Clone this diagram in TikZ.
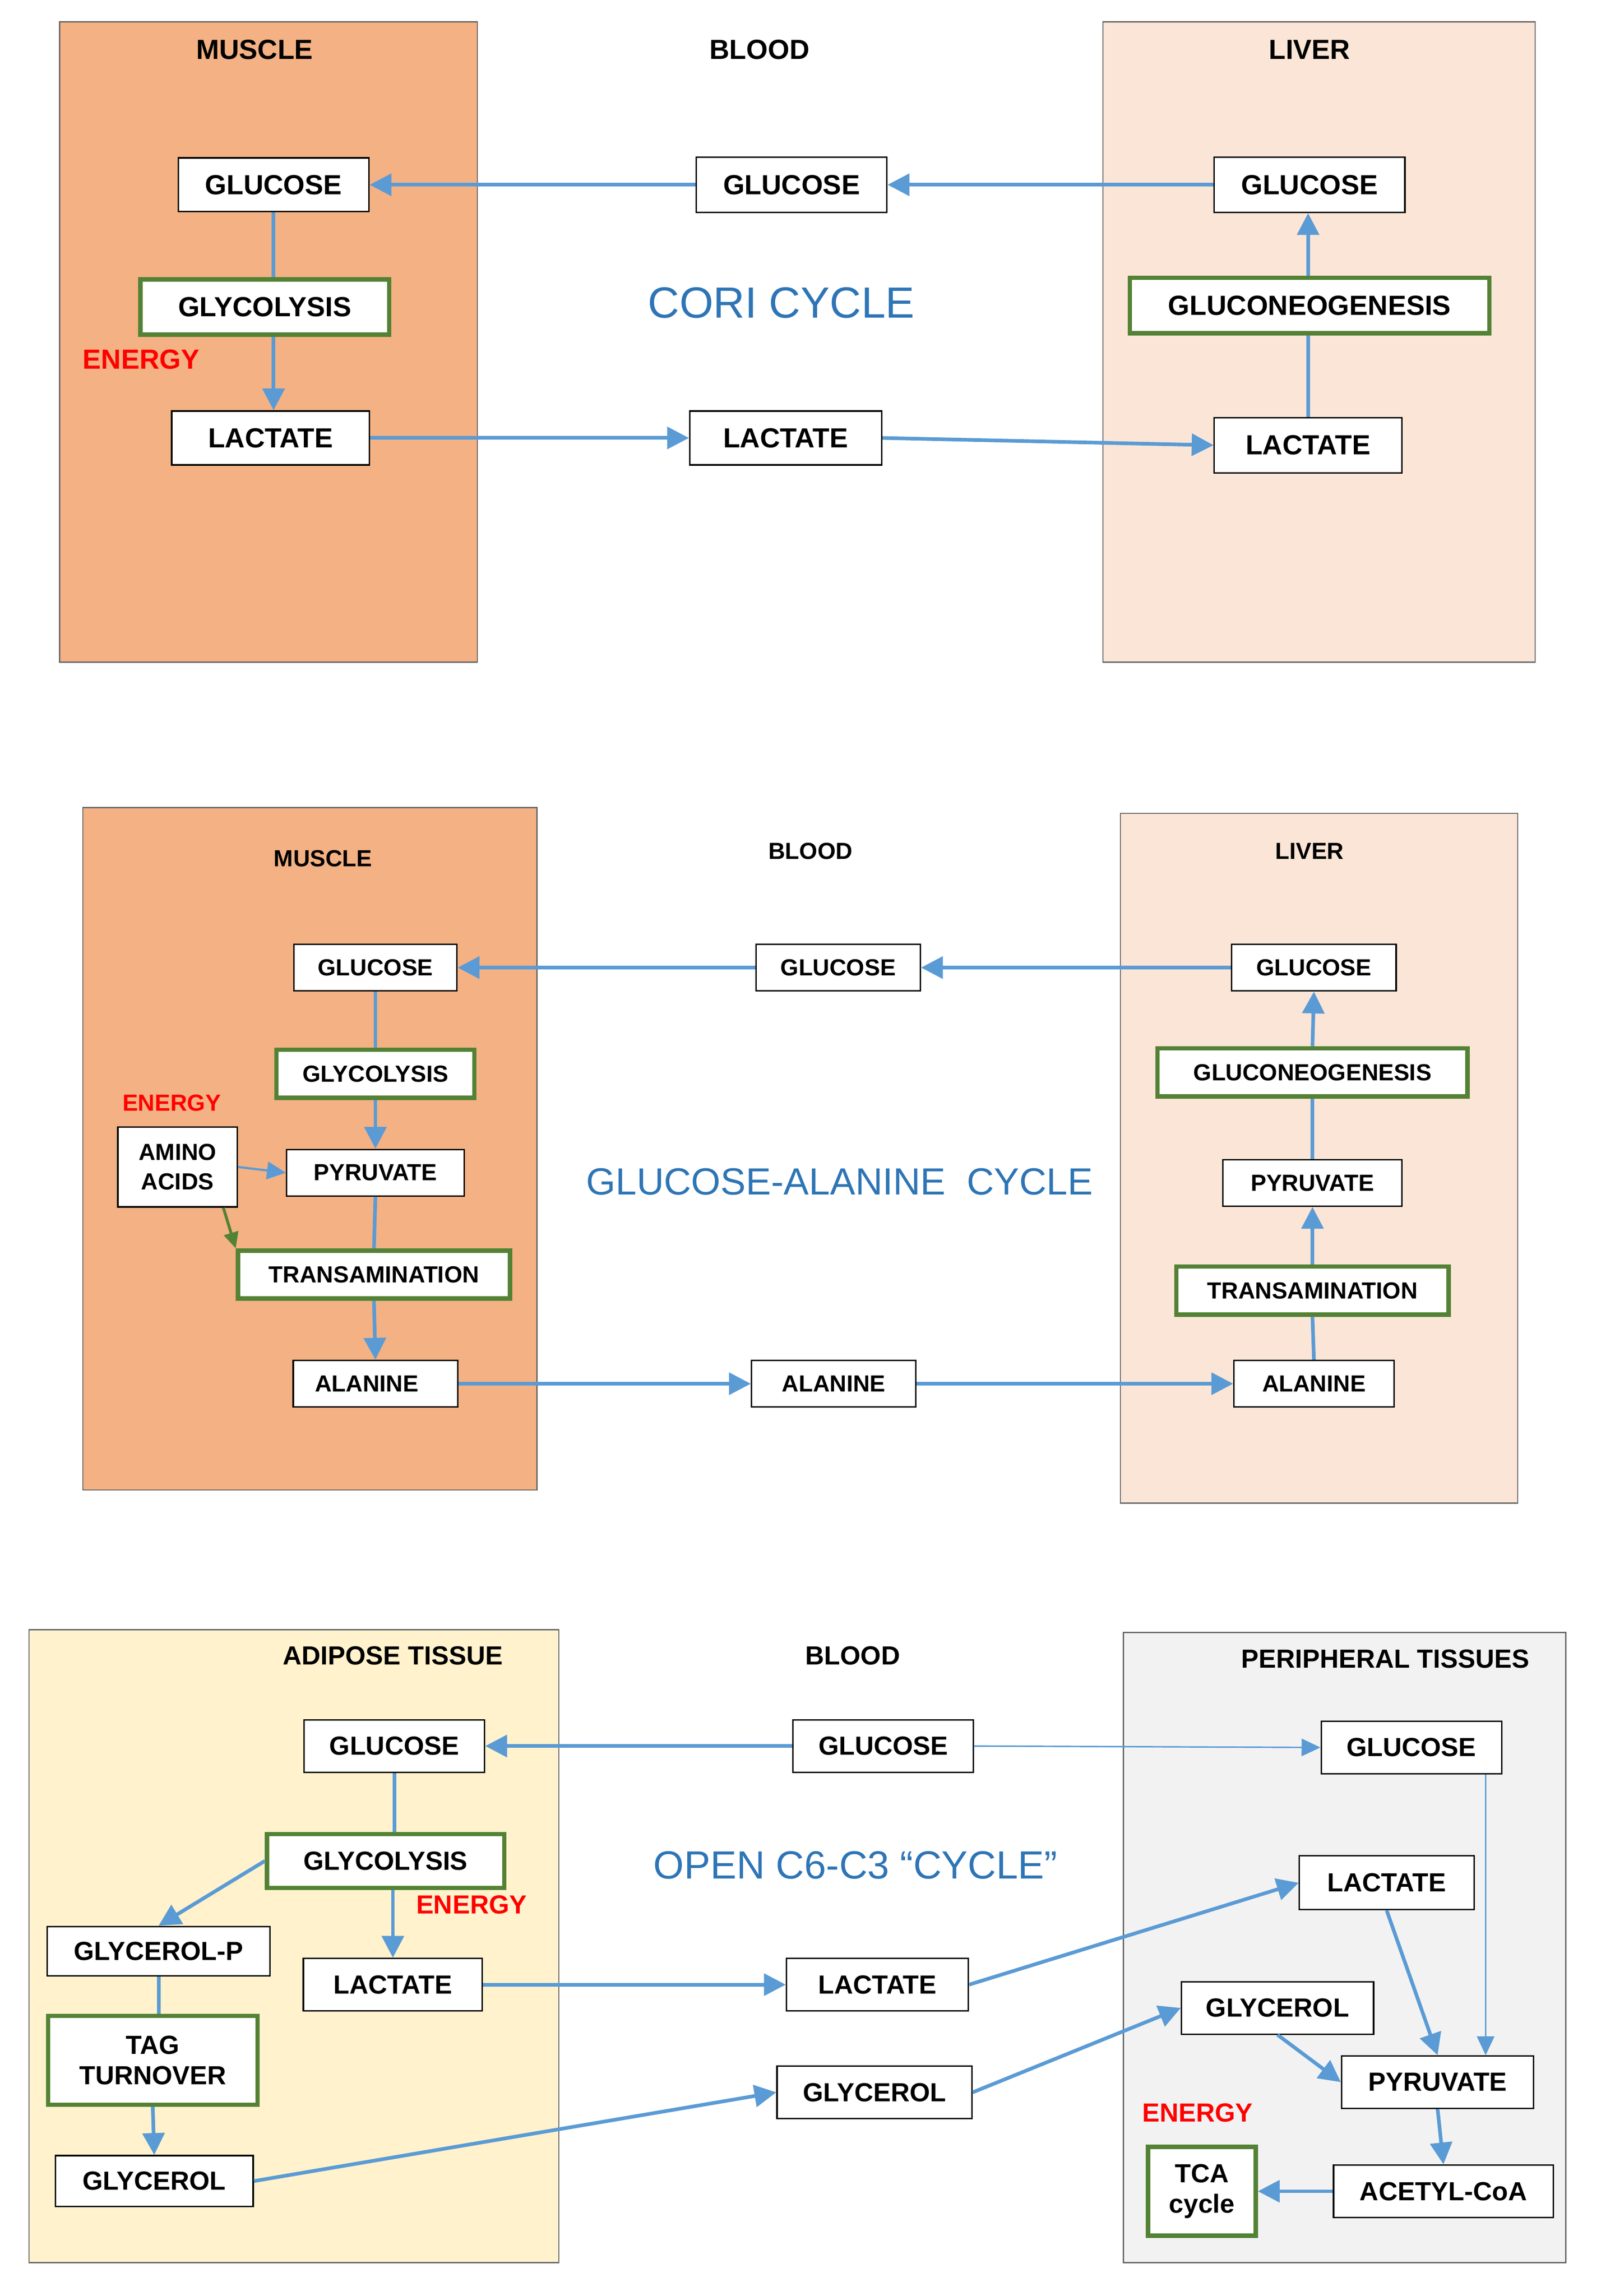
\documentclass[tikz,border=0pt]{standalone}
\usepackage{fontspec}
\setmainfont{Liberation Sans}
\usetikzlibrary{arrows.meta}
\definecolor{arr}{HTML}{5B9BD5}
\definecolor{grn}{HTML}{548235}
\definecolor{musc}{HTML}{F4B183}
\definecolor{liv}{HTML}{FBE5D6}
\definecolor{adip}{HTML}{FFF2CC}
\definecolor{peri}{HTML}{F2F2F2}
\definecolor{cyc}{HTML}{2E75B6}
\begin{document}
\begin{tikzpicture}[x=1pt,y=-1pt,
 box/.style={draw=black,line width=1pt,fill=white,font=\bfseries,inner sep=0pt,align=center},
 gbox/.style={box,draw=grn,line width=3pt},
 tis/.style={draw=gray!80!black,line width=0.8pt},
 a/.style={draw=arr,line width=2.5pt,-{Triangle[length=15pt,width=15pt]}},
 l/.style={draw=arr,line width=2.5pt},
 ta/.style={draw=arr,line width=1pt,-{Triangle[length=13pt,width=12pt]}},
 ttl/.style={font=\bfseries},
 en/.style={font=\bfseries,text=red},
 cy/.style={text=cyc,font=\fontsize{30}{34}\selectfont}]
\useasboundingbox (0,0) rectangle (1100,1578);
% ---------- Panel 1
\begin{scope}
\fontsize{19}{22}\selectfont
\fill[musc] (41,15) rectangle (328,455); \draw[tis] (41,15) rectangle (328,455);
\fill[liv] (758,15) rectangle (1055,455); \draw[tis] (758,15) rectangle (1055,455);
\node[ttl] (t1) at (175,34) {MUSCLE};
\node[ttl] (t2) at (522,34) {BLOOD};
\node[ttl] (t3) at (900,34) {LIVER};
\node[box,minimum width=131pt,minimum height=37pt] (mg) at (188,127) {GLUCOSE};
\node[box,minimum width=131pt,minimum height=38pt] (bg) at (544,127) {GLUCOSE};
\node[box,minimum width=131pt,minimum height=38pt] (lg) at (900,127) {GLUCOSE};
\node[gbox,minimum width=171pt,minimum height=38pt] (gly) at (182,211) {GLYCOLYSIS};
\node[en] (e1) at (97,247) {ENERGY};
\node[box,minimum width=136pt,minimum height=37pt] (ml) at (186,301) {LACTATE};
\node[box,minimum width=132pt,minimum height=37pt] (bl) at (540,301) {LACTATE};
\node[box,minimum width=129pt,minimum height=38pt] (ll) at (899,306) {LACTATE};
\node[gbox,minimum width=247pt,minimum height=38pt] (gng) at (900,210) {GLUCONEOGENESIS};
\end{scope}
\node[cy] (c1) at (537,208) {CORI CYCLE};
\draw[a] (bg.west) -- (mg.east);
\draw[a] (lg.west) -- (bg.east);
\draw[l] (mg.south) -- (mg.south |- gly.north);
\draw[a] (gly.south -| mg.south) -- (ml.north -| mg.south);
\draw[a] (ml.east) -- (bl.west);
\draw[a] (bl.east) -- (ll.west);
\draw[l] (ll.north) -- (gng.south -| ll.north);
\draw[a] (gng.north -| ll.north) -- (lg.south -| ll.north);
% ---------- Panel 2
\begin{scope}
\fontsize{16}{19}\selectfont
\fill[musc] (57,555) rectangle (369,1024); \draw[tis] (57,555) rectangle (369,1024);
\fill[liv] (770,559) rectangle (1043,1033); \draw[tis] (770,559) rectangle (1043,1033);
\node[ttl] (u1) at (222,590) {MUSCLE};
\node[ttl] (u2) at (557,585) {BLOOD};
\node[ttl] (u3) at (900,585) {LIVER};
\node[box,minimum width=112pt,minimum height=32pt] (mg2) at (258,665) {GLUCOSE};
\node[box,minimum width=113pt,minimum height=32pt] (bg2) at (576,665) {GLUCOSE};
\node[box,minimum width=113pt,minimum height=32pt] (lg2) at (903,665) {GLUCOSE};
\node[gbox,minimum width=136pt,minimum height=33pt] (gly2) at (258,738) {GLYCOLYSIS};
\node[en] (e2) at (118,758) {ENERGY};
\node[box,minimum width=82pt,minimum height=55pt,font=\fontsize{16}{20}\selectfont\bfseries] (aa) at (122,802) {AMINO\\ACIDS};
\node[box,minimum width=122pt,minimum height=32pt] (mp) at (258,806) {PYRUVATE};
\node[gbox,minimum width=187pt,minimum height=33pt] (mt) at (257,876) {TRANSAMINATION};
\node[box,minimum width=113pt,minimum height=32pt] (ma) at (258,951) {ALANINE\hspace{12pt}};
\node[box,minimum width=113pt,minimum height=32pt] (ba) at (573,951) {ALANINE};
\node[box,minimum width=110pt,minimum height=32pt] (la) at (903,951) {ALANINE};
\node[gbox,minimum width=213pt,minimum height=33pt] (gng2) at (902,737) {GLUCONEOGENESIS};
\node[box,minimum width=123pt,minimum height=32pt] (lp) at (902,813) {PYRUVATE};
\node[gbox,minimum width=187pt,minimum height=33pt] (lt) at (902,887) {TRANSAMINATION};
\end{scope}
\node[cy,font=\fontsize{26}{30}\selectfont] (c2) at (577,812) {GLUCOSE-ALANINE\ \ CYCLE};
\draw[a] (bg2.west) -- (mg2.east);
\draw[a] (lg2.west) -- (bg2.east);
\draw[l] (mg2.south) -- (gly2.north);
\draw[a] (gly2.south) -- (mp.north);
\draw[l] (mp.south) -- (mt.north);
\draw[a] (mt.south) -- (ma.north);
\draw[ta,line width=1.5pt] (aa.east) -- (mp.west);
\draw[draw=grn,line width=2pt,-{Triangle[length=11pt,width=10pt]}] (aa.south east) ++(-10,0) -- (mt.north west);
\draw[a] (ma.east) -- (ba.west);
\draw[a] (ba.east) -- (la.west);
\draw[l] (la.north) -- (lt.south);
\draw[a] (lt.north) -- (lp.south);
\draw[l] (lp.north) -- (gng2.south);
\draw[a] (gng2.north) -- (lg2.south);
% ---------- Panel 3
\begin{scope}
\fontsize{18}{21}\selectfont
\fill[adip] (20,1120) rectangle (384,1555); \draw[tis] (20,1120) rectangle (384,1555);
\fill[peri] (772,1122) rectangle (1076,1555); \draw[tis] (772,1122) rectangle (1076,1555);
\node[ttl] (v1) at (270,1138) {ADIPOSE TISSUE};
\node[ttl] (v2) at (586,1138) {BLOOD};
\node[ttl] (v3) at (952,1140) {PERIPHERAL TISSUES};
\node[box,minimum width=124pt,minimum height=36pt] (ag) at (271,1200) {GLUCOSE};
\node[box,minimum width=124pt,minimum height=36pt] (bg3) at (607,1200) {GLUCOSE};
\node[box,minimum width=124pt,minimum height=36pt] (pg) at (970,1201) {GLUCOSE};
\node[gbox,minimum width=163pt,minimum height=37pt] (agly) at (265,1279) {GLYCOLYSIS};
\node[en] (e3) at (324,1309) {ENERGY};
\node[box,minimum width=153pt,minimum height=34pt] (gp) at (109,1341) {GLYCEROL-P};
\node[box,minimum width=123pt,minimum height=36pt] (al) at (270,1364) {LACTATE};
\node[gbox,minimum width=144pt,minimum height=61pt] (tag) at (105,1416) {TAG\\TURNOVER};
\node[box,minimum width=136pt,minimum height=35pt] (agl) at (106,1499) {GLYCEROL};
\node[box,minimum width=125pt,minimum height=36pt] (bl3) at (603,1364) {LACTATE};
\node[box,minimum width=134pt,minimum height=36pt] (bgl) at (601,1438) {GLYCEROL};
\node[box,minimum width=120pt,minimum height=37pt] (pl) at (953,1294) {LACTATE};
\node[box,minimum width=132pt,minimum height=36pt] (pgl) at (878,1380) {GLYCEROL};
\node[box,minimum width=132pt,minimum height=36pt] (pp) at (988,1431) {PYRUVATE};
\node[en] (e4) at (823,1452) {ENERGY};
\node[box,minimum width=151pt,minimum height=36pt] (ac) at (992,1506) {ACETYL-CoA};
\node[gbox,minimum width=74pt,minimum height=61pt] (tca) at (826,1506) {TCA\\cycle};
\end{scope}
\node[cy,font=\fontsize{27}{31}\selectfont] (c3) at (588,1282) {OPEN C6-C3 “CYCLE”};
\draw[a] (bg3.west) -- (ag.east);
\draw[ta] (bg3.east) -- (pg.west);
\draw[l] (ag.south) -- (ag.south |- agly.north);
\draw[a] (agly.west) -- (gp.north);
\draw[a] (agly.south -| al.north) -- (al.north);
\draw[l] (gp.south) -- (gp.south |- tag.north);
\draw[a] (tag.south) -- (agl.north);
\draw[a] (agl.east) -- (bgl.west);
\draw[a] (al.east) -- (bl3.west);
\draw[a] (bl3.east) -- (pl.west);
\draw[a] (bgl.east) -- (pgl.west);
\draw[ta] (pg.south -| 1021,0) -- (pp.north -| 1021,0);
\draw[a] (pl.south) -- (pp.north);
\draw[a] (pgl.south) -- (pp.west);
\draw[a] (pp.south) -- (ac.north);
\draw[a] (ac.west) -- (tca.east);
\end{tikzpicture}
\end{document}
